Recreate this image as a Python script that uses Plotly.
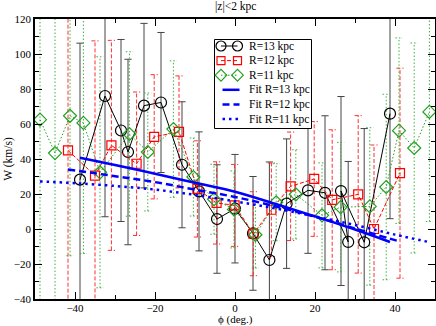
import plotly.graph_objects as go

# R = 13 kpc (black circles), in the order the points are joined
phi_13 = [-38.75, -32.5, -28.5, -26.75, -22.75, -18.5, -13.25, -9.0, -4.5, 0.0, 4.5,
          8.6, 12.9, 18.25, 22.5, 28.3, 26.5, 32.3, 38.75]
w_13 = [28.2, 76.0, 56.3, 44.0, 70.5, 72.3, 36.7, 21.5, 5.7, 11.6, -2.5,
        -17.7, 14.5, 22.1, 20.7, -7.4, 21.7, -7.6, 65.9]
err_13 = [78, 69, 52, 53, 47, 40, 36, 34, 31, 31, 32.5,
          56, 37, 36, 44, 46, 54, 65, 60]

# R = 12 kpc (red squares)
phi_12 = [-41.75, -35.0, -30.9, -24.6, -20.2, -14.0, -9.4, -4.6, -0.1, 4.6, 9.1,
          13.9, 19.8, 24.3, 30.8, 34.75, 41.25]
w_12 = [44.9, 30.5, 47.8, 37.3, 52.7, 55.5, 22.9, 14.9, 13.5, -2.7, 11.0,
        24.4, 28.6, 16.7, 19.8, 0.0, 31.9]
err_12 = [95, 77, 60, 41, 35.5, 32, 27.5, 23.5, 23.4, 24, 26.7,
          31, 32.8, 40, 45, 48, 60]

# R = 11 kpc (green diamonds)
phi_11 = [-48.75, -45.0, -41.25, -37.9, -33.75, -26.4, -21.8, -15.4, -10.4, -5.25, -0.25,
          5.1, 10.3, 15.2, 21.75, 26.4, 33.7, 37.8, 41.0, 44.8, 48.6]
w_11 = [62.5, 43.4, 64.7, 60.6, 32.4, 54.3, 44.0, 57.1, 29.7, 17.0, 11.2,
        -3.3, 15.3, 19.8, 7.8, 12.5, 12.9, 24.0, 56.2, 46.3, 66.9]
err_11 = [105, 90, 80, 74.6, 66, 47, 33.7, 39, 22.3, 20, 22,
          19, 22, 25.5, 30, 37, 45, 53, 53, 60, 62.6]

# fitted curves
fit_phi_13 = [-38.75, -30, -20, -10, 0, 10, 20, 30, 38.75]
fit_w_13 = [40.7, 36.6, 31.6, 26.4, 21.3, 14.4, 7.2, -0.3, -7.4]
fit_phi_12 = [-41.75, -30, -20, -10, 0, 10, 20, 30, 41.25]
fit_w_12 = [34.0, 30.2, 26.8, 22.5, 18.3, 13.0, 7.0, 0.3, -7.2]
fit_phi_11 = [-48.75, -40, -30, -20, -10, 0, 10, 20, 30, 40, 48.75]
fit_w_11 = [27.2, 26.2, 24.6, 22.5, 19.5, 15.8, 11.8, 7.2, 2.3, -3.2, -7.6]

FONT = "Liberation Serif"
GREEN = "#20a020"
BLUE = "#0000ff"
CAP = 0.9  # half width of the error bar caps, in degrees
DASH = "4px,2px"
DOT = "1.5px,2px"


def error_segments(xs, ys, errs):
    ex, ey = [], []
    for x, y, e in zip(xs, ys, errs):
        lo, hi = y - e, y + e
        ex += [x, x, None, x - CAP, x + CAP, None, x - CAP, x + CAP, None]
        ey += [lo, hi, None, lo, lo, None, hi, hi, None]
    return ex, ey


fig = go.Figure()

series = [
    (phi_13, w_13, err_13, "R=13 kpc", "black", "#444444", "solid", "circle-open", 11),
    (phi_12, w_12, err_12, "R=12 kpc", "red", "#ff3030", DASH, "square-open", 9),
    (phi_11, w_11, err_11, "R=11 kpc", GREEN, "#40b040", DOT, "diamond-open", 10),
]
fits = [
    (fit_phi_13, fit_w_13, "Fit R=13 kpc", "solid"),
    (fit_phi_12, fit_w_12, "Fit R=12 kpc", "7px,4px"),
    (fit_phi_11, fit_w_11, "Fit R=11 kpc", "2.5px,4px"),
]

for xs, ys, errs, name, color, ecolor, dash, symbol, size in series:
    ex, ey = error_segments(xs, ys, errs)
    fig.add_scatter(x=ex, y=ey, mode="lines", showlegend=False, hoverinfo="skip",
                    line=dict(color=ecolor, width=1, dash=dash))

for xs, ys, errs, name, color, ecolor, dash, symbol, size in series:
    fig.add_scatter(x=xs, y=ys, mode="lines+markers", name=name, showlegend=False,
                    line=dict(color=color, width=1, dash=dash),
                    marker=dict(symbol=symbol, size=size, color=color,
                                line=dict(width=1.2, color=color)))

for xs, ys, name, dash in fits:
    fig.add_scatter(x=xs, y=ys, mode="lines", name=name, showlegend=False,
                    line=dict(color=BLUE, width=2.5, dash=dash, shape="spline"))

# hand-drawn legend on an overlay axis measured in pixels of the plot area
box_x0, box_x1, box_y0, box_y1 = 214.5, 311.5, 39.5, 128.5
fig.add_scatter(x=[box_x0, box_x1, box_x1, box_x0, box_x0],
                y=[box_y0, box_y0, box_y1, box_y1, box_y0],
                xaxis="x2", yaxis="y2", mode="lines", fill="toself",
                fillcolor="white", line=dict(color="black", width=1),
                showlegend=False, hoverinfo="skip")
row_y = [46, 60.6, 75.2, 89.8, 104.4, 119]
sample_x = [221, 237.5]
entries = [(s[3], s[4], s[6], s[7], s[8], 1) for s in series]
entries += [(name, BLUE, dash, None, 0, 2.5) for _, _, name, dash in fits]
for (name, color, dash, symbol, size, width), yy in zip(entries, row_y):
    if symbol:
        fig.add_scatter(x=sample_x, y=[yy, yy], xaxis="x2", yaxis="y2",
                        mode="lines+markers", showlegend=False, hoverinfo="skip",
                        line=dict(color=color, width=width, dash=dash),
                        marker=dict(symbol=symbol, size=size - 1, color=color,
                                    line=dict(width=1.2, color=color)))
    else:
        fig.add_scatter(x=[sample_x[0] + 1.5, sample_x[1] + 2], y=[yy, yy],
                        xaxis="x2", yaxis="y2", mode="lines", showlegend=False,
                        hoverinfo="skip", line=dict(color=color, width=width, dash=dash))
    fig.add_annotation(x=247, y=yy, xref="x2", yref="y2", text=name, showarrow=False,
                       xanchor="left", yanchor="middle",
                       font=dict(family=FONT, size=11.5, color="black"))

# title and axis titles
fig.add_annotation(x=0.5, y=1.046, xref="paper", yref="paper", text="|z|<2 kpc",
                   showarrow=False, xanchor="center", yanchor="middle",
                   font=dict(family=FONT, size=11.5, color="black"))
fig.add_annotation(x=0.5, y=-0.072, xref="paper", yref="paper", text="ϕ (deg.)",
                   showarrow=False, xanchor="center", yanchor="middle",
                   font=dict(family=FONT, size=11, color="black"))
fig.add_annotation(x=-0.068, y=0.5, xref="paper", yref="paper", text="W (km/s)",
                   textangle=-90, showarrow=False, xanchor="center", yanchor="middle",
                   font=dict(family=FONT, size=11.5, color="black"))

axis_style = dict(
    showline=True, linecolor="black", linewidth=1.5, mirror="ticks",
    ticks="inside", ticklen=7, tickwidth=1, tickcolor="black",
    showgrid=False, zeroline=False, automargin=False,
    tickfont=dict(family=FONT, size=11, color="black"),
)

fig.update_layout(
    width=436, height=326,
    margin=dict(l=35, r=1, t=19, b=27),
    paper_bgcolor="white", plot_bgcolor="white",
    font=dict(family=FONT, size=11, color="black"),
    showlegend=False,
    xaxis=dict(range=[-50, 50], dtick=20, tick0=0, ticklabelstandoff=-2,
               minor=dict(dtick=10, ticklen=4, ticks="inside", tickcolor="black"),
               **axis_style),
    yaxis=dict(range=[-40, 120], dtick=20, tick0=0,
               minor=dict(dtick=10, ticklen=4, ticks="inside", tickcolor="black"),
               **axis_style),
    xaxis2=dict(overlaying="x", range=[35, 435], visible=False, fixedrange=True),
    yaxis2=dict(overlaying="y", range=[299, 19], visible=False, fixedrange=True),
)

fig.write_html("out.html", config={"displayModeBar": False},
               post_script="document.body.style.margin='0';")
